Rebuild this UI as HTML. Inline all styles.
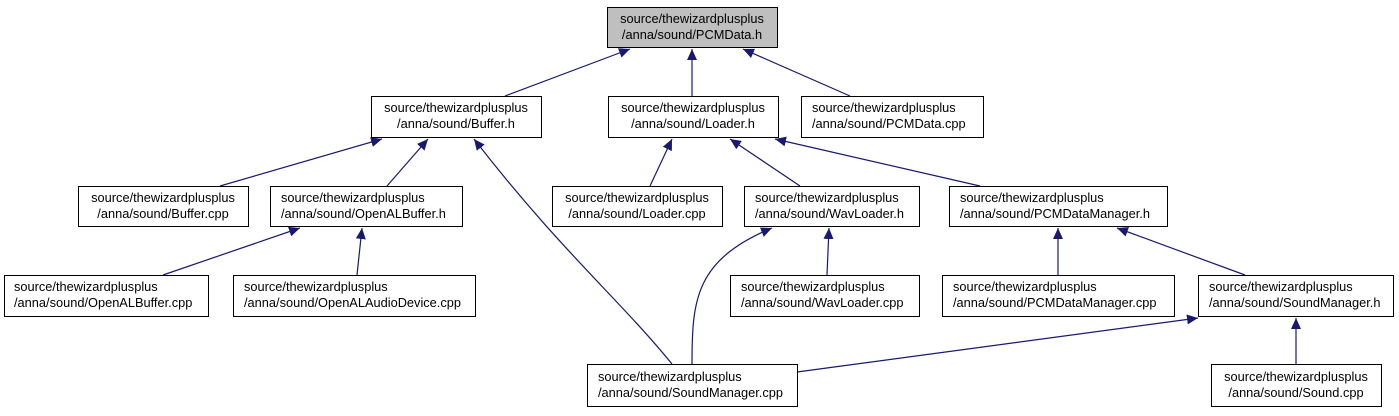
<!DOCTYPE html>
<html><head><meta charset="utf-8"><style>
html,body{margin:0;padding:0;background:#fff;width:1399px;height:416px;overflow:hidden}
text{font-family:"Liberation Sans",Arial,sans-serif;font-size:12.8px;fill:#000}
</style></head><body>
<svg width="1399" height="416" xmlns="http://www.w3.org/2000/svg">
<defs><marker id="a" markerWidth="12" markerHeight="10" refX="11" refY="5" orient="auto" markerUnits="userSpaceOnUse">
<path d="M0,0 L11,5 L0,10 z" fill="#191970"/></marker></defs>
<g stroke="#191970" stroke-width="1.2" fill="none" marker-end="url(#a)">
<line x1="505" y1="96" x2="630" y2="49"/>
<line x1="692" y1="96" x2="692" y2="49"/>
<line x1="850" y1="96" x2="743" y2="49"/>
<line x1="220" y1="186" x2="382" y2="139"/>
<line x1="387" y1="186" x2="428" y2="139"/>
<path d="M672,364 C620,300 560,250 474,139"/>
<line x1="650" y1="186" x2="672" y2="139"/>
<line x1="800" y1="186" x2="730" y2="139"/>
<line x1="980" y1="186" x2="775" y2="139"/>
<line x1="163" y1="275" x2="300" y2="228"/>
<line x1="357" y1="275" x2="362" y2="228"/>
<path d="M692,364 C692,300 695,260 772,228"/>
<line x1="827" y1="275" x2="829" y2="228"/>
<line x1="1058" y1="275" x2="1058" y2="228"/>
<line x1="1245" y1="275" x2="1117" y2="228"/>
<line x1="797" y1="372" x2="1198" y2="318"/>
<line x1="1296" y1="364" x2="1296" y2="318"/>
</g>
<g stroke="#000" stroke-width="1" fill="#fff">
<rect x="607.5" y="7.5" width="170" height="40" fill="#bfbfbf"/>
<rect x="371.5" y="96.5" width="170" height="41"/>
<rect x="608.5" y="96.5" width="170" height="41"/>
<rect x="801.5" y="96.5" width="182" height="41"/>
<rect x="78.5" y="186.5" width="170" height="40"/>
<rect x="270.5" y="186.5" width="192" height="40"/>
<rect x="552.5" y="186.5" width="170" height="40"/>
<rect x="744.5" y="186.5" width="175" height="40"/>
<rect x="949.5" y="186.5" width="218" height="40"/>
<rect x="4.5" y="275.5" width="204" height="41"/>
<rect x="233.5" y="275.5" width="242" height="41"/>
<rect x="730.5" y="275.5" width="189" height="41"/>
<rect x="942.5" y="275.5" width="232" height="41"/>
<rect x="1198.5" y="275.5" width="195" height="41"/>
<rect x="587.5" y="364.5" width="210" height="42"/>
<rect x="1211.5" y="364.5" width="170" height="42"/>
</g>
<g text-anchor="middle">
<text x="692" y="23">source/thewizardplusplus</text><text x="692" y="39">/anna/sound/PCMData.h</text>
<text x="456" y="112">source/thewizardplusplus</text><text x="456" y="128">/anna/sound/Buffer.h</text>
<text x="693" y="112">source/thewizardplusplus</text><text x="693" y="128">/anna/sound/Loader.h</text>
<text x="163" y="202">source/thewizardplusplus</text><text x="163" y="218">/anna/sound/Buffer.cpp</text>
<text x="637" y="202">source/thewizardplusplus</text><text x="637" y="218">/anna/sound/Loader.cpp</text>
<text x="1296" y="381">source/thewizardplusplus</text><text x="1296" y="397">/anna/sound/Sound.cpp</text>
</g>
<g>
<text x="812" y="112">source/thewizardplusplus</text><text x="812" y="128">/anna/sound/PCMData.cpp</text>
<text x="281" y="202">source/thewizardplusplus</text><text x="281" y="218">/anna/sound/OpenALBuffer.h</text>
<text x="755" y="202">source/thewizardplusplus</text><text x="755" y="218">/anna/sound/WavLoader.h</text>
<text x="960" y="202">source/thewizardplusplus</text><text x="960" y="218">/anna/sound/PCMDataManager.h</text>
<text x="14" y="291">source/thewizardplusplus</text><text x="14" y="307">/anna/sound/OpenALBuffer.cpp</text>
<text x="244" y="291">source/thewizardplusplus</text><text x="244" y="307">/anna/sound/OpenALAudioDevice.cpp</text>
<text x="741" y="291">source/thewizardplusplus</text><text x="741" y="307">/anna/sound/WavLoader.cpp</text>
<text x="953" y="291">source/thewizardplusplus</text><text x="953" y="307">/anna/sound/PCMDataManager.cpp</text>
<text x="1209" y="291">source/thewizardplusplus</text><text x="1209" y="307">/anna/sound/SoundManager.h</text>
<text x="598" y="381">source/thewizardplusplus</text><text x="598" y="397">/anna/sound/SoundManager.cpp</text>
</g>
</svg>
</body></html>
